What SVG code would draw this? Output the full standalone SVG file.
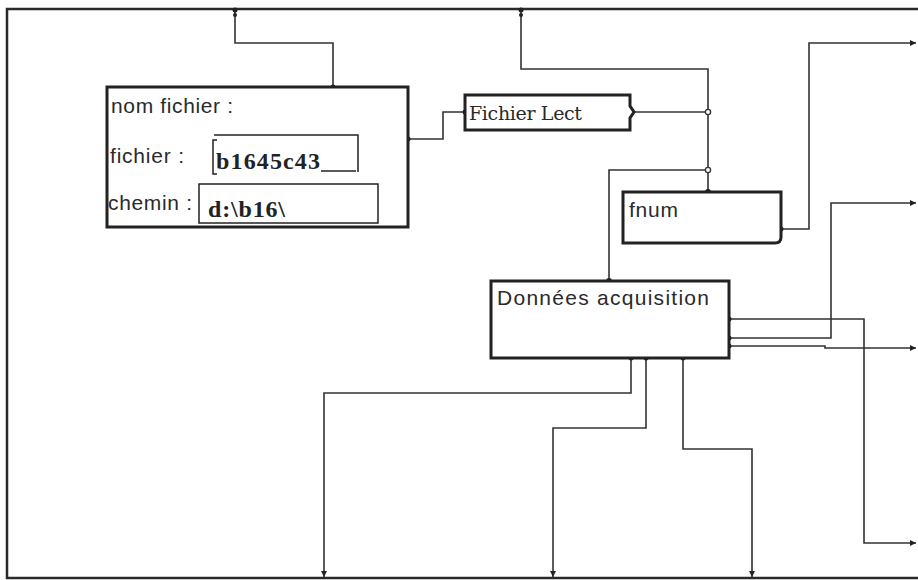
<svg xmlns="http://www.w3.org/2000/svg" width="918" height="580" viewBox="0 0 918 580">
<style>
.frame{fill:none;stroke:#2a2a2a;stroke-width:2.5}
.box{fill:#fff;stroke:#222;stroke-width:3}
.field{fill:none;stroke:#222;stroke-width:1.5}
.wire{fill:none;stroke:#333;stroke-width:1.6}
.lbl{font-family:"Liberation Sans",Arial,sans-serif;font-size:21px;fill:#2a2a2a}
.val{font-family:"Liberation Serif","Times New Roman",serif;font-size:24px;font-weight:bold;fill:#222}
.ser{font-family:"DejaVu Serif","Liberation Serif",serif;font-size:19px;fill:#2a2a2a}
.dot{fill:#222}
.ring{fill:#fff;stroke:#333;stroke-width:1.3}
</style>
<defs>
<marker id="ar" markerWidth="8" markerHeight="8" refX="7" refY="4" orient="auto" markerUnits="userSpaceOnUse">
<path d="M1,1 L7,4 L1,7 Z" fill="#222"/>
</marker>
</defs>
<rect width="918" height="580" fill="#fff"/>
<path class="frame" d="M918,9 H7 V578 H918"/>

<g id="connectors">
<path class="wire" d="M235,11 V43 H333 V87"/>
<path class="wire" d="M521,11 V69 H708 V192"/>
<path class="wire" d="M408,139 H443 V112 H465"/>
<path class="wire" d="M634,112 H708"/>
<path class="wire" d="M708,170 H609 V281"/>
<path class="wire" marker-end="url(#ar)" d="M781,229 H809 V43 H916"/>
<path class="wire" marker-end="url(#ar)" d="M729,319 H864 V543 H916"/>
<path class="wire" marker-end="url(#ar)" d="M729,338 H831 V203 H916"/>
<path class="wire" marker-end="url(#ar)" d="M729,346 H825 V348 H916"/>
<path class="wire" marker-end="url(#ar)" d="M631,358 V393 H324 V577"/>
<path class="wire" marker-end="url(#ar)" d="M646,358 V428 H553 V577"/>
<path class="wire" marker-end="url(#ar)" d="M683,358 V449 H752 V577"/>
<circle class="dot" cx="235" cy="10" r="2.5"/>
<circle class="dot" cx="235" cy="15" r="2"/>
<circle class="dot" cx="521" cy="10" r="2.5"/>
<circle class="dot" cx="521" cy="15" r="2"/>
<circle class="dot" cx="333" cy="87" r="2.5"/>
<circle class="dot" cx="408" cy="139" r="2.5"/>
<circle class="dot" cx="465" cy="112" r="2.5"/>
<circle class="ring" cx="708" cy="112" r="2.6"/>
<circle class="ring" cx="708" cy="170" r="2.6"/>
<circle class="dot" cx="708" cy="192" r="3"/>
<circle class="dot" cx="609" cy="281" r="3"/>
<circle class="dot" cx="781" cy="229" r="2.5"/>
<circle class="dot" cx="729" cy="319" r="2.5"/>
<circle class="dot" cx="729" cy="338" r="2.5"/>
<circle class="dot" cx="729" cy="346" r="2.5"/>
<circle class="dot" cx="631" cy="358" r="2.5"/>
<circle class="dot" cx="646" cy="358" r="2.5"/>
<circle class="dot" cx="683" cy="358" r="2.5"/>
</g>

<g id="node-nomfichier">
<rect class="box" x="107" y="87" width="301" height="140"/>
<text class="lbl" x="111" y="113" textLength="122">nom fichier :</text>
<text class="lbl" x="110" y="163" textLength="74">fichier :</text>
<text class="lbl" x="108" y="210" textLength="84">chemin :</text>
<path class="field" d="M214,135 H358 V172"/>
<path class="field" d="M217,140 H213 V174 H217"/>
<path class="field" d="M321,171 H356"/>
<text class="val" x="216" y="169" textLength="104">b1645c43</text>
<rect class="field" x="199" y="184" width="179" height="39"/>
<text class="val" x="208" y="217" textLength="77">d:\b16\</text>
</g>

<g id="node-fichierlect">
<path class="box" d="M465,95 H630 V106 L634,112 L630,118 V130 H465 Z"/>
<text class="ser" x="469" y="120" textLength="113">Fichier Lect</text>
</g>

<g id="node-fnum">
<path class="box" d="M623,192 H781 V237 Q781,243 775,243 H623 Z"/>
<text class="lbl" x="629" y="217" textLength="49">fnum</text>
</g>

<g id="node-donnees">
<rect class="box" x="491" y="281" width="238" height="77"/>
<text class="lbl" x="497" y="305" textLength="212">Données acquisition</text>
</g>
</svg>
